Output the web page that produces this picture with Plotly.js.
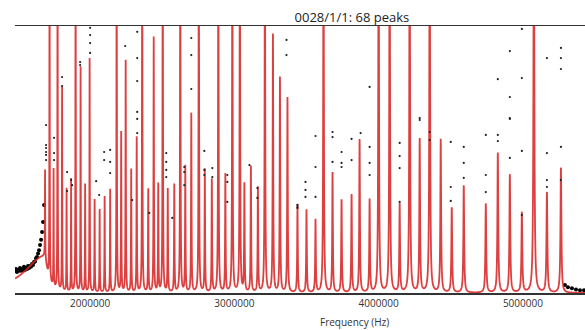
<!DOCTYPE html>
<html>
<head>
<meta charset="utf-8">
<script src="https://cdn.plot.ly/plotly-3.0.1.min.js"></script>
<style>html,body{margin:0;padding:0;background:#fff}#chart{width:585px;height:330px}</style>
</head>
<body>
<div id="chart"></div>
<script>
// ---- fitted peak parameters ----
const peakFreq = [
  1.6875e6, 1.7188e6, 1.7465e6, 1.7743e6, 1.8056e6, 1.8368e6, 1.8681e6, 1.8993e6, 1.9340e6, 1.9653e6,
  1.9965e6, 2.0312e6, 2.0660e6, 2.1007e6, 2.1389e6, 2.1840e6, 2.2153e6, 2.2465e6, 2.2847e6, 2.3229e6,
  2.3611e6, 2.4028e6, 2.4409e6, 2.4722e6, 2.5034e6, 2.5382e6, 2.5833e6, 2.6250e6, 2.6597e6, 2.7013e6,
  2.7534e6, 2.7951e6, 2.8437e6, 2.8888e6, 2.9374e6, 2.9860e6, 3.0381e6, 3.0694e6, 3.1145e6, 3.1631e6,
  3.2117e6, 3.2673e6, 3.3159e6, 3.3680e6, 3.4374e6, 3.4999e6, 3.5624e6, 3.6180e6, 3.6804e6, 3.7429e6,
  3.8124e6, 3.8679e6, 3.9374e6, 3.9999e6, 4.0763e6, 4.1457e6, 4.2151e6, 4.2846e6, 4.3540e6, 4.4304e6,
  4.5068e6, 4.5901e6, 4.7429e6, 4.8262e6, 4.9095e6, 4.9929e6, 5.0762e6, 5.1665e6, 5.2637e6
];
const peakAmp = [
  0.33, 1.5, 0.44, 1.5, 0.76, 0.386, 0.423, 1.5, 0.843, 0.404,
  0.876, 0.348, 0.311, 0.36, 0.386, 1.5, 0.599, 0.869, 0.461, 0.581,
  1.5, 0.386, 0.955, 0.404, 1.5, 0.386, 0.404, 1.5, 0.472, 0.67,
  1.5, 0.461, 0.423, 1.5, 0.442, 1.5, 1.5, 0.404, 0.472, 0.393,
  1.5, 0.966, 0.805, 0.73, 0.33, 0.311, 0.273, 1.5, 0.449, 0.348,
  0.367, 0.573, 0.348, 1.5, 1.5, 0.33, 1.5, 0.573, 1.5, 0.573,
  0.318, 0.401, 0.333, 0.524, 0.442, 0.3, 1.5, 0.375, 0.468
];
const qualityFactor = 1400;          // peak half-width = f / Q
const bgCenter = 1.6806e6, bgAmp = 0.137, bgWidthLeft = 162000, bgWidthRight = 28000;

// ---- measured points (black) ----
const rampFreq = [1.4792e6,1.4862e6,1.4931e6,1.5000e6,1.5070e6,1.5139e6,1.5209e6,1.5278e6,1.5348e6,1.5417e6,
  1.5486e6,1.5556e6,1.5625e6,1.5695e6,1.5764e6,1.5834e6,1.5903e6,1.5972e6,1.6042e6,1.6111e6,
  1.6181e6,1.6250e6,1.6320e6,1.6389e6,1.6459e6,1.6528e6,1.6597e6,1.6667e6,1.6736e6,1.6806e6,
  5.2915e6,5.3123e6,5.3401e6,5.3679e6,5.3957e6,5.4234e6];
const rampAmp = [0.083,0.090,0.079,0.086,0.083,0.094,0.083,0.090,0.086,0.098,
  0.086,0.094,0.090,0.101,0.094,0.101,0.098,0.109,0.105,0.116,
  0.118,0.130,0.135,0.148,0.160,0.180,0.199,0.228,0.266,0.330,
  0.030,0.022,0.018,0.013,0.010,0.010];

const dotFreq = [
  2.0e6,2.0e6,2.0e6,2.0e6,1.9306e6,1.9306e6,1.8056e6,1.8056e6,2.3264e6,2.3264e6,2.3264e6,2.2430e6,
  2.7013e6,2.7013e6,2.7013e6,3.3610e6,3.3610e6,2.3264e6,2.3264e6,
  3.9374e6,4.9095e6,4.8262e6,4.9929e6,4.9095e6,4.9929e6,5.1665e6,5.2637e6,5.2637e6,5.2637e6,4.9095e6,4.2846e6,
  1.6945e6,1.6945e6,1.6945e6,1.6945e6,1.6945e6,1.6945e6,1.7500e6,1.7500e6,1.7500e6,1.8403e6,1.8681e6,1.8403e6,1.8750e6,
  2.0417e6,2.0972e6,2.1389e6,2.0972e6,2.1389e6,2.1389e6,2.0625e6,2.3264e6,2.2916e6,2.4097e6,2.5694e6,
  2.5277e6,2.5277e6,2.5277e6,2.5277e6,2.6527e6,2.6527e6,2.6527e6,2.7916e6,2.7916e6,2.7916e6,2.8472e6,2.8472e6,
  2.9513e6,2.9513e6,2.9513e6,3.1041e6,3.1596e6,3.1596e6,3.4374e6,3.4374e6,
  3.5624e6,3.5624e6,3.5624e6,3.6804e6,3.6804e6,3.6804e6,3.7429e6,3.7429e6,3.7429e6,3.8124e6,3.8124e6,3.8749e6,
  3.9374e6,3.9374e6,3.9374e6,4.1457e6,4.1457e6,4.1457e6,4.1457e6,4.2846e6,4.3540e6,4.3540e6,
  4.4998e6,4.4998e6,4.4998e6,4.5901e6,4.5901e6,4.5901e6,4.7429e6,4.7429e6,4.7429e6,4.8262e6,4.8262e6,
  4.9095e6,4.9095e6,4.9929e6,4.9929e6,5.1665e6,5.1665e6,5.1665e6,5.2637e6,5.2637e6,3.4374e6,
  3.4930e6,3.4930e6,3.4930e6
];
const dotAmp = [
  0.993,0.966,0.936,0.899,0.865,0.854,0.809,0.775,0.978,0.880,0.794,0.925,
  0.955,0.891,0.764,0.948,0.891,0.678,0.652,
  0.772,0.906,0.801,0.805,0.734,0.989,0.880,0.918,0.880,0.839,0.655,0.655,
  0.629,0.554,0.543,0.528,0.517,0.498,0.581,0.524,0.498,0.453,0.423,0.382,0.404,
  0.419,0.528,0.536,0.498,0.491,0.449,0.367,0.599,0.348,0.300,0.281,
  0.524,0.491,0.461,0.434,0.472,0.453,0.404,0.532,0.461,0.442,0.468,0.434,
  0.442,0.416,0.341,0.479,0.393,0.356,0.330,0.318,
  0.588,0.472,0.360,0.603,0.584,0.491,0.528,0.487,0.472,0.577,0.498,0.599,
  0.547,0.487,0.442,0.562,0.513,0.468,0.341,0.648,0.603,0.573,
  0.566,0.397,0.345,0.547,0.487,0.431,0.592,0.442,0.378,0.592,0.569,
  0.506,0.652,0.532,0.292,0.524,0.423,0.397,0.547,0.423,0.322,
  0.416,0.386,0.360
];

const xTicks = [2000000, 3000000, 4000000, 5000000];
const xTickText = ['2000000', '3000000', '4000000', '5000000'];
const xRange = [1.4792e6, 5.4305e6];

// ---- build model curve from the peak parameters ----
function model(f) {
  let s = 0;
  for (let i = 0; i < peakFreq.length; i++) {
    const g = peakFreq[i] / qualityFactor;
    const d = f - peakFreq[i];
    s += peakAmp[i] * g * g / (d * d + g * g);
  }
  const gb = f < bgCenter ? bgWidthLeft : bgWidthRight;
  const db = f - bgCenter;
  s += bgAmp * gb * gb / (db * db + gb * gb);
  return s;
}
let fx = [];
for (let f = xRange[0]; f <= xRange[1]; f += 400) fx.push(f);
fx = fx.concat(peakFreq).sort((a, b) => a - b);
const fy = fx.map(model);

const traces = [
  { x: rampFreq, y: rampAmp, type: 'scatter', mode: 'markers',
    marker: { color: '#000', size: 4 }, hoverinfo: 'skip' },
  { x: fx, y: fy, type: 'scatter', mode: 'lines',
    line: { color: 'rgba(216,38,38,0.88)', width: 1.8, simplify: false }, hoverinfo: 'skip' },
  { x: dotFreq, y: dotAmp, type: 'scatter', mode: 'markers',
    marker: { color: '#222', size: 2.2 }, hoverinfo: 'skip' }
];

const layout = {
  width: 585, height: 330,
  margin: { l: 15, r: 0, t: 26, b: 37 },
  paper_bgcolor: '#fff', plot_bgcolor: '#fff',
  showlegend: false,
  font: { family: 'Open Sans, sans-serif', color: '#333' },
  title: { text: '0028/1/1: 68 peaks', font: { size: 13, color: '#222' },
           x: 0.591, xanchor: 'center', xref: 'paper', y: 1, yref: 'paper', yanchor: 'bottom', pad: { b: 4 } },
  xaxis: {
    range: xRange, tickvals: xTicks, ticktext: xTickText, ticks: '',
    showgrid: false, zeroline: false, showline: true, mirror: true,
    linecolor: '#333', linewidth: 1.5, tickfont: { size: 10, color: '#333' },
    automargin: false
  },
  yaxis: {
    range: [0, 1], showticklabels: false, ticks: '', showgrid: false, zeroline: false,
    showline: false, automargin: false
  },
  annotations: [{
    text: 'Frequency (Hz)', xref: 'paper', yref: 'paper', x: 0.595, y: -0.107,
    xanchor: 'center', yanchor: 'middle', showarrow: false, font: { size: 10, color: '#333' }
  }]
};

Plotly.newPlot('chart', traces, layout, { staticPlot: true, displayModeBar: false });
</script>
</body>
</html>
